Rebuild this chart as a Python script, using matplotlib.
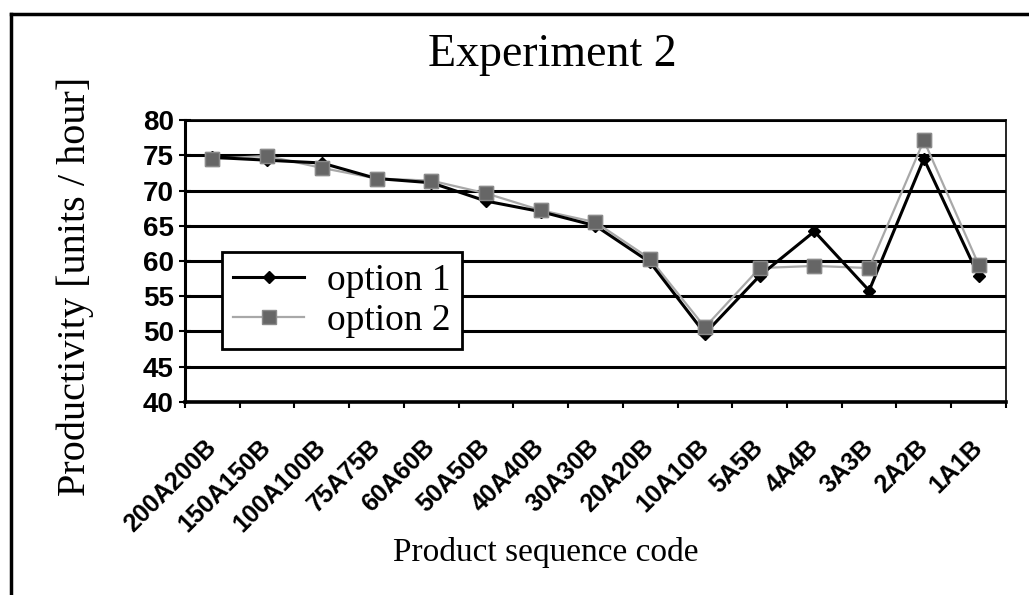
# Experiment 2 - productivity per product sequence code
import matplotlib
matplotlib.use("Agg")
import matplotlib.pyplot as plt
from matplotlib.lines import Line2D
from matplotlib.ticker import FixedLocator

# data
codes = ["200A200B", "150A150B", "100A100B", "75A75B", "60A60B", "50A50B",
         "40A40B", "30A30B", "20A20B", "10A10B", "5A5B", "4A4B", "3A3B",
         "2A2B", "1A1B"]
option1 = [74.7, 74.3, 73.9, 71.7, 71.1, 68.5, 67.0, 65.0, 59.8, 49.7,
           57.9, 64.2, 55.8, 74.5, 57.9]
option2 = [74.5, 74.9, 73.2, 71.7, 71.4, 69.6, 67.2, 65.5, 60.3, 50.6,
           59.0, 59.3, 59.0, 77.1, 59.5]
y_ticks = [40, 45, 50, 55, 60, 65, 70, 75, 80]

serif = "Liberation Serif"
sans = "Liberation Sans"

fig = plt.figure(figsize=(10.29, 5.95), dpi=100)
ax = fig.add_axes([0.1798, 0.3244, 0.7978, 0.4739])

x = list(range(len(codes)))

# option 2 line below, option 1 in the middle, option 2 markers on top
ax.plot(x, option2, color="#a8a8a8", lw=1.6, marker="s", ms=10,
        mfc="#666666", mec="#8a8a8a", label="option 2", zorder=3)
ax.plot(x, option1, color="black", lw=2.2, marker="D", ms=6.5,
        mfc="black", mec="black", label="option 1", zorder=4)
ax.plot(x, option2, ls="none", marker="s", ms=10,
        mfc="#666666", mec="#8a8a8a", zorder=5)

ax.set_ylim(40, 80)
ax.set_xlim(-0.5, len(codes) - 0.5)
ax.set_yticks(y_ticks)
ax.set_yticklabels([str(v) for v in y_ticks], fontfamily=sans,
                   fontweight="bold", fontsize=20)

# x ticks: marks at category boundaries, labels at centres
ax.xaxis.set_major_locator(FixedLocator([i - 0.5 for i in range(len(codes) + 1)]))
ax.set_xticklabels([])
ax.set_xticks(x, minor=True)
ax.set_xticklabels(codes, minor=True, rotation=45, ha="right", va="center",
                   rotation_mode="anchor", fontfamily=sans,
                   fontweight="bold", fontsize=18)
ax.tick_params(axis="x", which="major", direction="out", length=4, width=1.5)
ax.tick_params(axis="x", which="minor", length=0, pad=30)
ax.tick_params(axis="y", direction="inout", length=8, width=1.5, pad=4)

ax.yaxis.grid(True, color="black", lw=2.2)
ax.set_axisbelow(True)
ax.spines["left"].set_linewidth(2.2)
ax.spines["bottom"].set_linewidth(2.6)
ax.spines["top"].set_linewidth(1.2)
ax.spines["right"].set_linewidth(1.2)

handles, labels = ax.get_legend_handles_labels()
leg = ax.legend(handles[::-1], labels[::-1], loc="upper left",
                bbox_to_anchor=(0.045, 0.532), borderaxespad=0,
                prop={"family": serif, "size": 27}, fancybox=False,
                framealpha=1, edgecolor="black", handlelength=1.9,
                handletextpad=0.6, borderpad=0.3, labelspacing=0.15)
leg.get_frame().set_linewidth(2)
leg.set_zorder(10)

fig.text(0.537, 0.908, "Experiment 2", family=serif, fontsize=33,
         ha="center", va="center")
fig.text(0.073, 0.518, "Productivity [units / hour]", family=serif,
         fontsize=29, rotation=90, ha="center", va="center")
fig.text(0.53, 0.072, "Product sequence code", family=serif, fontsize=24,
         ha="center", va="center")

# outer frame (left and top edge only)
fig.add_artist(Line2D([11 / 1029, 11 / 1029], [0, 1 - 14 / 595],
                      transform=fig.transFigure, color="black", lw=2.5))
fig.add_artist(Line2D([11 / 1029, 1], [1 - 14 / 595, 1 - 14 / 595],
                      transform=fig.transFigure, color="black", lw=2.5))

fig.savefig("out.png", dpi=100)
